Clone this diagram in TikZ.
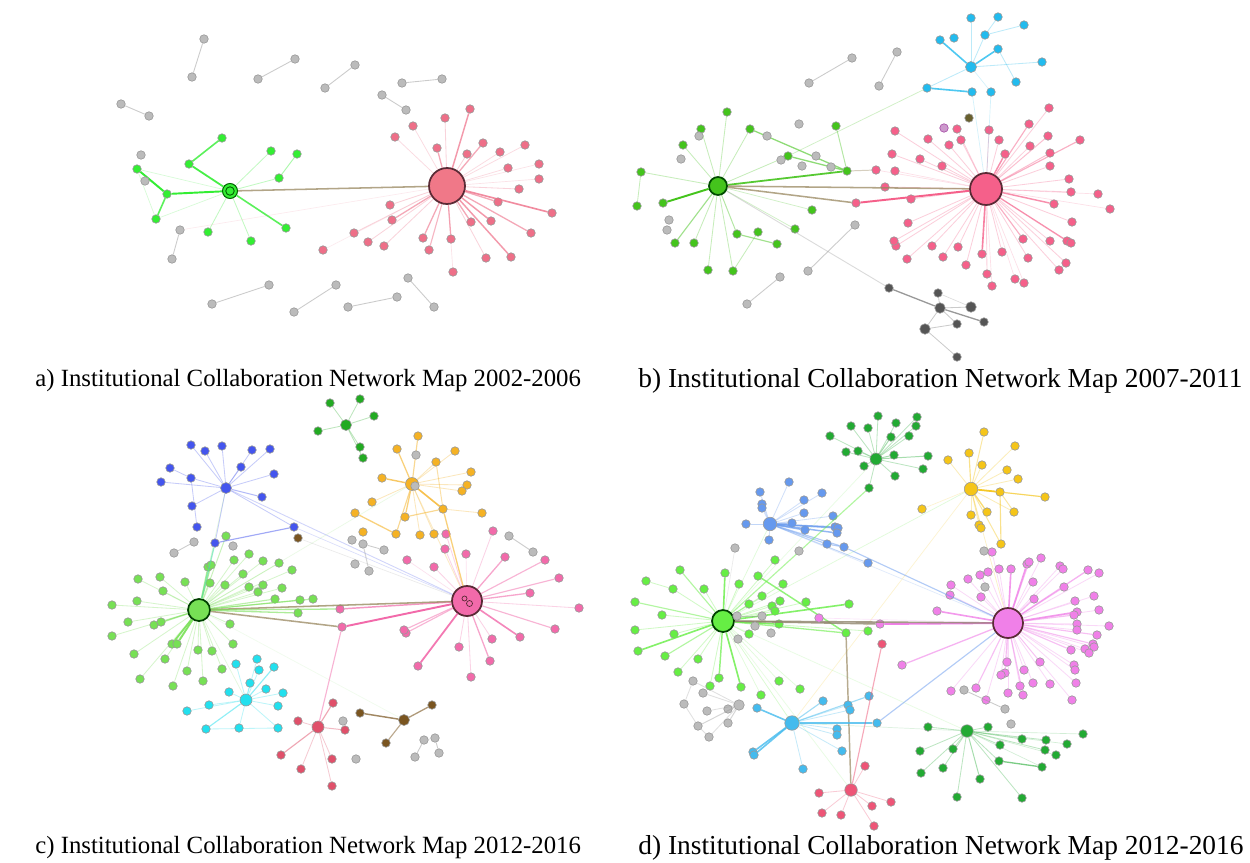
\documentclass[tikz,border=0pt]{standalone}
\usepackage{fontspec}
\setmainfont{Liberation Serif}
\definecolor{agreen}{HTML}{33EE33}
\definecolor{apink}{HTML}{EE6F88}
\definecolor{apinkhub}{HTML}{F07888}
\definecolor{hubborder}{HTML}{5A2A35}
\definecolor{bgreen}{HTML}{44C41C}
\definecolor{bpink}{HTML}{F5608A}
\definecolor{bblue}{HTML}{22BBEE}
\definecolor{bdark}{HTML}{555555}
\definecolor{olive}{HTML}{998860}
\definecolor{cgreen}{HTML}{77E055}
\definecolor{cblue}{HTML}{4455EE}
\definecolor{corange}{HTML}{F5B224}
\definecolor{cpink}{HTML}{F26AAA}
\definecolor{ccyan}{HTML}{22E0EE}
\definecolor{cred}{HTML}{E0506A}
\definecolor{cdgreen}{HTML}{22AA22}
\definecolor{cbrown}{HTML}{7A5520}
\definecolor{dgreen}{HTML}{66EE44}
\definecolor{dblue}{HTML}{6699EE}
\definecolor{dyellow}{HTML}{F5C518}
\definecolor{dmag}{HTML}{F080E8}
\definecolor{dcyan}{HTML}{44BBEE}
\definecolor{dred}{HTML}{EE5577}
\definecolor{ddgreen}{HTML}{22AA33}
\definecolor{greyn}{HTML}{BBBBBB}
\definecolor{greyl}{HTML}{999999}
\tikzset{
  dot/.style={circle,inner sep=0pt,minimum size=0.17cm,draw=black!40,line width=0.35pt},
  bigdot/.style={dot,minimum size=0.21cm},
  hub/.style={circle,inner sep=0pt,draw=hubborder,line width=1pt},
  gr/.style={dot,fill=greyn},
  captext/.style={anchor=west,inner sep=0pt}
}
\newcommand\netgroup[5]{%
  \foreach \px/\py/\pk [count=\cnt] in {#5}{%
    \node[#3] (#1\cnt) at (\px,\py) {};}%
  \foreach \px/\py/\pk [count=\cnt] in {#5}{%
    \pgfmathsetmacro\lw{0.2+0.9*\pk}%
    \draw[draw=#4,opacity=\pk,line width=\lw pt] (#2) -- (#1\cnt);}}
\newcommand\lk[4]{%
  \pgfmathsetmacro\lw{0.2+0.9*#4}%
  \draw[draw=#3,opacity=#4,line width=\lw pt] (#1) -- (#2);}
\newcommand\greypairs[2]{%
  \foreach \ax/\ay/\bx/\by [count=\cnt] in {#2}{%
    \node[gr] (#1A\cnt) at (\ax,\ay) {};
    \node[gr] (#1B\cnt) at (\bx,\by) {};
    \draw[draw=greyl,opacity=.5,line width=0.5pt] (#1A\cnt) -- (#1B\cnt);}}
\newcommand\singles[3]{%
  \foreach \px/\py [count=\cnt] in {#3}{\node[#2] (#1\cnt) at (\px,\py) {};}}
\begin{document}
\begin{tikzpicture}[x=0.02cm,y=-0.02cm]
\path[fill=white] (0,0) rectangle (1250,862);
\useasboundingbox (0,0) rectangle (1250,862);

% ================= panel a =================
\node[hub,fill=apinkhub,minimum size=0.72cm] (aP) at (447,186) {};
\node[circle,inner sep=0pt,minimum size=0.3cm,fill=agreen,draw=green!40!black,line width=0.6pt] (aG) at (230,191) {};
\draw[green!35!black,line width=0.5pt] (aG) circle (0.085cm);
\netgroup{ag}{aG}{dot,fill=agreen}{agreen}{222/138/0, 189/164/.9, 137/169/.2, 167/194/1, 156/219/.2, 271/151/.3, 297/154/0, 279/178/.3, 286/228/.8, 208/232/.3, 251/241/.3}
\lk{ag1}{ag2}{agreen}{.8}
\lk{ag3}{ag4}{agreen}{1}
\lk{ag4}{ag5}{agreen}{.8}
\lk{ag7}{ag8}{agreen}{.4}
\lk{ag3}{ag5}{agreen}{.2}
\netgroup{ap}{aP}{dot,fill=apink}{apink}{470/109/.7, 445/118/.3, 413/126/.25, 395/137/.25, 437/148/.6, 467/154/.3, 483/143/.6, 500/152/.25, 525/145/.25, 508/168/.25, 539/164/.2, 539/179/.2, 519/189/.3, 498/202/.6, 552/213/.8, 491/221/.7, 471/222/.6, 531/233/.6, 511/257/.7, 486/258/.3, 453/272/.2, 451/239/.6, 429/250/.5, 423/238/.6, 390/205/.3, 392/220/.6, 354/233/.3, 368/242/.3, 384/246/.3, 323/250/.15}
\lk{aG}{aP}{olive}{.75}
\greypairs{ay}{204/39/192/77, 295/59/258/79, 355/65/325/88, 121/104/149/116, 402/83/442/79, 382/95/406/110, 180/230/172/259, 269/285/212/304, 336/285/294/312, 397/297/348/307, 408/278/434/307}
\singles{as}{gr}{141/155, 145/181}
\lk{aP}{ayA7}{apink}{.15}

% ================= panel b =================
\node[hub,fill=bgreen,draw=green!30!black,minimum size=0.36cm] (bG) at (718,186) {};
\node[hub,fill=bpink,minimum size=0.64cm] (bP) at (986,189) {};
\netgroup{bg}{bG}{dot,fill=bgreen}{bgreen}{727/112/.3, 701/129/.3, 683/145/.3, 641/172/.3, 637/206/0, 663/203/1, 675/243/.5, 694/243/.3, 708/270/.3, 733/271/.3, 737/234/.4, 758/232/0, 777/244/0, 795/229/.25, 812/210/.25, 750/129/.3, 788/156/.3, 836/126/0, 847/171/.9}
\lk{bg4}{bg5}{bgreen}{.3}
\lk{bg11}{bg13}{bgreen}{.5}
\lk{bg10}{bg12}{bgreen}{.3}
\lk{bg16}{bg19}{bgreen}{.6}
\lk{bg17}{bg19}{bgreen}{.6}
\lk{bg18}{bg19}{bgreen}{.4}
\netgroup{bp}{bP}{dot,fill=bpink}{bpink}{1049/108/.3, 1029/124/.5, 1048/136/.4, 1080/140/.5, 1030/146/.3, 1050/153/.4, 1050/166/.3, 1069/179/.3, 1071/192/.3, 1098/194/.2, 1110/209/.2, 1054/204/.7, 1072/222/.3, 1050/241/.3, 1067/241/.6, 1071/243/.3, 1066/263/.3, 1059/270/.3, 1023/239/.5, 1028/258/.3, 1024/283/.2, 1015/279/.2, 1002/252/.3, 992/286/.2, 987/274/.3, 982/254/.8, 966/265/.3, 958/247/.3, 943/257/.3, 932/246/.3, 907/259/.3, 896/246/.3, 894/241/.3, 908/223/.3, 911/199/.3, 885/187/.3, 876/170/.2, 895/171/.2, 892/154/.3, 920/159/.3, 942/166/.3, 928/139/.3, 949/145/.3, 895/131/.3, 957/129/.3, 961/140/.3, 989/130/.3, 999/140/.3, 1005/154/.7, 856/203/1}
\lk{bG}{bP}{olive}{.75}
\lk{bG}{bp50}{olive}{.75}
\lk{bg19}{bp37}{olive}{.4}
\node[dot,fill=bblue,minimum size=0.22cm] (bB) at (971,67) {};
\netgroup{bb}{bB}{dot,fill=bblue}{bblue}{971/18/.3, 998/17/0, 1024/25/0, 985/35/.3, 998/49/.8, 1042/62/.3, 1016/82/0, 954/38/0, 940/40/.8, 927/88/.3, 972/92/0, 991/92/.2}
\lk{bb2}{bb4}{bblue}{.3}
\lk{bb3}{bb4}{bblue}{.3}
\lk{bb7}{bb5}{bblue}{.3}
\lk{bb10}{bb11}{bblue}{.8}
\lk{bb11}{bP}{bblue}{.2}
\lk{bb12}{bP}{bblue}{.2}
\lk{bg17}{bb10}{bgreen}{.25}
\node[dot,fill=olive!80!yellow!60!black] (bO) at (969,118) {};
\node[dot,fill=violet!40,draw=violet!70] (bV) at (944,128) {};
\greypairs{by}{852/58/809/83, 855/225/808/271, 780/277/747/304, 897/52/879/86}
\singles{bs}{gr}{799/124, 767/136, 781/160, 802/166, 816/156, 831/167, 699/136, 681/159, 669/220, 667/230}
\node[dot,fill=bdark] (bd1) at (889,288) {};
\node[dot,fill=bdark] (bd2) at (938,293) {};
\node[bigdot,fill=bdark] (bd3) at (940,308) {};
\node[bigdot,fill=bdark] (bd4) at (971,307) {};
\node[dot,fill=bdark] (bd5) at (984,322) {};
\node[dot,fill=bdark] (bd6) at (957,324) {};
\node[bigdot,fill=bdark] (bd7) at (925,329) {};
\node[dot,fill=bdark] (bd8) at (957,357) {};
\lk{bd1}{bd3}{bdark}{.6}
\lk{bd3}{bd5}{bdark}{.6}
\lk{bd3}{bd7}{bdark}{.3}
\lk{bd7}{bd6}{bdark}{.3}
\lk{bd3}{bd6}{bdark}{.3}
\lk{bd2}{bd3}{bdark}{.3}
\lk{bd3}{bd4}{bdark}{.3}
\lk{bd7}{bd8}{bdark}{.3}
\lk{bd2}{bd4}{bdark}{.2}
\lk{bG}{bd1}{greyl}{.35}

% ================= panel c =================
\node[hub,fill=cgreen,draw=green!25!black,minimum size=0.44cm] (cG) at (199,610) {};
\node[hub,fill=cpink,minimum size=0.6cm] (cP) at (467,601) {};
\draw[hubborder,line width=0.4pt] (cP) ++(0.05cm,-0.05cm) circle (0.06cm) ++(-0.1cm,0.1cm) circle (0.05cm);
\node[dot,fill=cblue,minimum size=0.22cm] (cB) at (226,488) {};
\node[dot,fill=corange,minimum size=0.26cm] (cO) at (412,484) {};
\node[dot,fill=ccyan,minimum size=0.24cm] (cC) at (246,700) {};
\node[dot,fill=cred,minimum size=0.24cm] (cR) at (318,727) {};
\node[dot,fill=cdgreen,minimum size=0.22cm] (cD) at (346,425) {};
\node[dot,fill=cbrown,minimum size=0.22cm] (cW) at (404,720) {};
\foreach \tg/\op in {cP/.2, cO/.15, cC/.2, cW/.1, cB/.2}{\draw[cgreen,opacity=\op,line width=0.4pt] (cG) -- (\tg);}
\draw[cblue,opacity=.25,line width=0.5pt] (cB) -- (cP);
\draw[corange,opacity=.25,line width=0.5pt] (cO) -- (cP);
\netgroup{cg}{cG}{dot,fill=cgreen}{cgreen}{226/536/.4, 208/567/.6, 211/565/.6, 234/560/.3, 249/554/.3, 263/561/.3, 279/563/.3, 292/570/.3, 243/574/.3, 225/585/.3, 210/583/.3, 160/577/.3, 138/579/.3, 185/582/.3, 163/591/.3, 137/601/.3, 112/605/.3, 249/587/.3, 263/585/.3, 258/592/.3, 282/588/.3, 275/599/.5, 300/600/.5, 313/599/.5, 298/613/.6, 128/622/.3, 154/625/.5, 161/622/.5, 112/636/.3, 172/644/.9, 177/644/.9, 230/624/.3, 134/654/.3, 165/659/.3, 198/650/.3, 212/651/.3, 233/644/.3, 187/671/.3, 222/669/.3, 140/679/.3, 173/686/.3, 203/681/.3}
\netgroup{cp}{cP}{dot,fill=cpink}{cpink}{446/534/.3, 445/549/.3, 466/554/.2, 407/560/.2, 434/567/.3, 493/531/.3, 505/557/.6, 545/560/.5, 559/578/.5, 530/593/.6, 579/608/.3, 555/629/.5, 520/637/.8, 492/639/.3, 490/661/.6, 471/677/.3, 459/647/.3, 418/666/.9, 406/633/.5, 404/630/.5, 340/609/.7, 342/627/1}
\lk{cG}{cP}{olive}{.75}
\lk{cG}{cp22}{olive}{.75}
\lk{cG}{cp21}{cgreen}{.6}
\lk{cp22}{cR}{cpink}{.5}
\netgroup{cb}{cB}{dot,fill=cblue}{cblue}{191/445/.3, 205/451/.3, 222/446/.3, 252/450/.3, 270/449/.3, 241/467/.3, 274/474/.3, 262/497/.4, 170/468/0, 161/482/.3, 191/478/.3, 192/506/.3, 197/527/0, 215/543/.3, 294/527/.3}
\lk{cb9}{cb11}{cblue}{.3}
\lk{cb13}{cb11}{cblue}{.3}
\lk{cb15}{cb14}{cblue}{.5}
\lk{cb14}{cG}{ccyan!50!cgreen}{.6}
\lk{cb15}{cP}{cblue}{.2}
\netgroup{cd}{cD}{dot,fill=cdgreen}{cdgreen}{330/403/.3, 318/431/.3, 360/399/.3, 374/416/.3, 360/447/.3, 363/458/.3}
\netgroup{co}{cO}{dot,fill=corange}{corange}{418/436/.5, 397/449/.6, 455/451/.3, 436/462/.3, 471/472/.3, 467/485/.3, 462/491/.3, 382/478/.7, 443/509/.8, 372/502/.3, 355/513/0, 405/517/.6, 482/513/0, 363/532/0, 396/534/.5, 420/535/.3, 434/534/.3}
\lk{co11}{co15}{corange}{.6}
\lk{co9}{co13}{corange}{.3}
\lk{co12}{co9}{corange}{.5}
\lk{co4}{co9}{corange}{.4}
\lk{co9}{cP}{corange}{.6}
\netgroup{cc}{cC}{dot,fill=ccyan}{ccyan}{236/664/.3, 257/659/.3, 259/670/.3, 274/667/.5, 250/683/.3, 229/692/.3, 266/689/.3, 283/693/.3, 209/705/.3, 278/706/.3, 187/711/.3, 206/729/.5, 239/728/.3, 278/728/.3}
\lk{cc12}{cc14}{ccyan}{.3}
\netgroup{cr}{cR}{dot,fill=cred}{cred}{333/703/.5, 298/721/.3, 345/730/.4, 281/755/.5, 301/769/.3, 332/759/.3, 332/786/.3}
\netgroup{cw}{cW}{dot,fill=cbrown}{cbrown}{432/705/.6, 360/713/.7, 386/743/.5}
\node[dot,fill=cbrown] (cw4) at (298,538) {};
\lk{cw4}{cP}{greyl}{.2}
\greypairs{cy}{194/542/174/553, 424/740/415/757, 435/738/439/753, 509/536/533/552, 363/544/384/550}
\singles{cs}{gr}{416/455, 415/486, 352/540, 355/564, 369/571, 233/546, 343/721, 356/759}
\lk{cs5}{cyA5}{greyl}{.4}
\lk{cyA2}{cyA3}{greyl}{.3}

% ================= panel d =================
\node[hub,fill=dgreen,draw=green!25!black,minimum size=0.44cm] (dG) at (723,621) {};
\node[hub,fill=dmag,minimum size=0.6cm] (dP) at (1008,623) {};
\node[dot,fill=dblue,minimum size=0.27cm] (dB) at (770,524) {};
\node[dot,fill=dyellow,minimum size=0.27cm] (dY) at (971,489) {};
\node[dot,fill=ddgreen,minimum size=0.24cm] (dD) at (876,459) {};
\node[dot,fill=ddgreen,minimum size=0.25cm] (dE) at (967,731) {};
\node[dot,fill=dcyan,minimum size=0.29cm] (dC) at (792,723) {};
\node[dot,fill=dred,minimum size=0.25cm] (dR) at (851,790) {};
\foreach \tg/\op in {dY/.2, dE/.15, dC/.25, dR/.15, dB/.2, dD/.15}{\draw[dgreen,opacity=\op,line width=0.4pt] (dG) -- (\tg);}
\draw[dblue,opacity=.2,line width=0.4pt] (dB) -- (dP);
\draw[dyellow,opacity=.25,line width=0.4pt] (dY) -- (dP);
\draw[dyellow,opacity=.2,line width=0.4pt] (dY) -- (dC);
\draw[ddgreen,opacity=.15,line width=0.4pt] (dE) -- (dC);
\netgroup{dg}{dG}{dot,fill=dgreen}{dgreen}{680/570/.5, 646/581/0, 673/589/.3, 635/602/.5, 662/615/.3, 635/630/.3, 674/634/.3, 638/651/.8, 665/656/.5, 698/659/.3, 678/672/.3, 719/678/.7, 710/686/.3, 741/687/.8, 704/589/.3, 725/573/.8, 739/584/.3, 758/576/0, 775/560/.3, 783/584/.3, 749/604/.3, 762/596/.3, 772/606/.3, 775/611/.3, 780/601/.3, 806/602/.3, 849/604/.8, 749/634/.3, 779/624/.8, 846/633/.6, 868/631/.3, 779/681/.2, 800/689/.2, 761/695/.2}
\lk{dg2}{dg3}{dgreen}{.3}
\lk{dg18}{dg30}{dgreen}{.7}
\netgroup{dp}{dP}{dot,fill=dmag}{dmag}{992/552/.3, 1041/558/.3, 1027/564/.8, 1029/562/.5, 1060/566/.3, 1063/569/.3, 1088/570/.6, 1099/573/.3, 999/569/.3, 1011/569/.8, 988/572/.3, 980/575/.3, 968/579/.3, 1033/582/.3, 1064/587/.5, 951/585/.3, 950/595/.3, 981/597/.3, 1034/599/.5, 1075/601/.3, 1094/596/.3, 1077/612/.8, 1074/615/.5, 1099/610/.3, 937/611/.8, 1077/624/.3, 1077/630/.3, 1109/626/.3, 1097/635/.5, 1093/644/.5, 1094/647/.3, 1085/649/.3, 1089/653/.3, 1071/650/.5, 1040/662/.3, 1007/662/.3, 1024/670/.3, 1005/673/.5, 1001/675/.3, 1074/665/.3, 1075/670/.3, 1076/683/.3, 1050/684/.3, 1033/683/.3, 1020/686/.3, 1023/695/.5, 1008/693/.3, 1072/700/.3, 976/688/.5, 986/700/.3, 951/691/.3, 902/665/.6, 880/624/1}
\lk{dG}{dP}{olive!60!gray}{.8}
\lk{dG}{dp53}{olive!60!gray}{.8}
\lk{dg30}{dR}{olive}{.7}
\netgroup{db}{dB}{dot,fill=dblue}{dblue}{789/482/.3, 760/492/.3, 822/493/.3, 804/500/.3, 762/504/.3, 762/508/.3, 804/513/.3, 833/516/.3, 746/524/.4, 792/523/.6, 805/530/.7, 835/527/.7, 838/528/.7, 837/533/.7, 769/540/.3, 827/544/.5, 844/547/.5, 868/563/.4}
\lk{db17}{dP}{dblue}{.5}
\lk{db17}{db16}{dblue}{.5}
\netgroup{dd}{dD}{dot,fill=ddgreen}{ddgreen}{830/436/.3, 851/426/.3, 868/428/.3, 878/416/.3, 846/452/.3, 858/451/.3, 864/466/.3, 869/488/.3, 917/417/.3, 896/423/.3, 916/426/.3, 891/437/.4, 909/436/.3, 894/455/.4, 928/456/.4, 923/469/.3, 895/476/.3}
\lk{dG}{dd8}{dgreen}{.5}
\netgroup{dy}{dY}{dot,fill=dyellow}{dyellow}{984/432/.4, 1015/446/.3, 969/453/.5, 948/460/.3, 982/465/.3, 1007/470/.3, 1018/479/.3, 1000/492/.9, 1045/497/.4, 922/509/.2, 971/515/.3, 987/512/.6, 1014/512/.3, 979/525/.3, 981/528/.3, 1001/544/.4}
\lk{dy8}{dy9}{dyellow}{.5}
\lk{dy8}{dy16}{dyellow}{.5}
\lk{dy8}{dy13}{dyellow}{.4}
\netgroup{de}{dE}{dot,fill=ddgreen}{ddgreen}{928/727/.3, 988/727/.3, 953/749/.3, 920/751/.3, 943/768/.3, 921/773/.3, 980/779/.4, 957/797/.3, 1022/798/.3, 1000/745/.3, 999/761/.3, 1022/739/.3, 1046/740/.3, 1067/744/.2, 1083/734/.2, 1045/750/.3, 1056/755/.2, 1042/767/.2}
\lk{de11}{de18}{ddgreen}{.6}
\netgroup{dc}{dC}{dot,fill=dcyan}{dcyan}{757/708/.8, 823/701/.5, 848/705/.3, 850/710/.3, 869/696/.5, 837/729/.3, 837/735/.3, 753/752/.8, 754/755/.8, 842/751/.3, 803/769/.3, 877/723/.8}
\lk{dc12}{dP}{dblue}{.5}
\netgroup{dr}{dR}{dot,fill=dred}{dred}{819/793/.3, 822/813/.3, 841/815/.3, 865/766/.3, 872/806/.3, 874/826/.3, 891/802/.3, 882/644/.5}
\node[dot,fill=dmag] (dm1) at (819,618) {};
\lk{dm1}{dP}{dmag}{.2}
\node[bigdot,fill=greyn] (dK) at (739,705) {};
\netgroup{dk}{dK}{gr}{greyl}{693/681/.3, 703/693/.3, 684/704/0, 707/711/.3, 728/709/.5, 728/723/.4, 698/726/.4, 709/737/.3}
\lk{dk1}{dk3}{greyl}{.3}
\lk{dk3}{dk7}{greyl}{.3}
\lk{dk7}{dk8}{greyl}{.3}
\greypairs{dq}{964/690/1005/709, 737/616/762/616}
\singles{ds}{gr}{735/548, 799/551, 755/626, 771/633, 738/639, 984/551, 985/587, 1011/724}
\lk{dG}{ds1}{greyl}{.2}

% ================= captions =================
\node[captext,font=\fontsize{14.1}{16}\selectfont] (capa) at (35,381) {a) Institutional Collaboration Network Map 2002-2006};
\node[captext,font=\fontsize{15.6}{18}\selectfont] (capb) at (638,381) {b) Institutional Collaboration Network Map 2007-2011};
\node[captext,font=\fontsize{14.1}{16}\selectfont] (capc) at (35,848) {c) Institutional Collaboration Network Map 2012-2016};
\node[captext,font=\fontsize{15.6}{18}\selectfont] (capd) at (638,848) {d) Institutional Collaboration Network Map 2012-2016};
\end{tikzpicture}
\end{document}
